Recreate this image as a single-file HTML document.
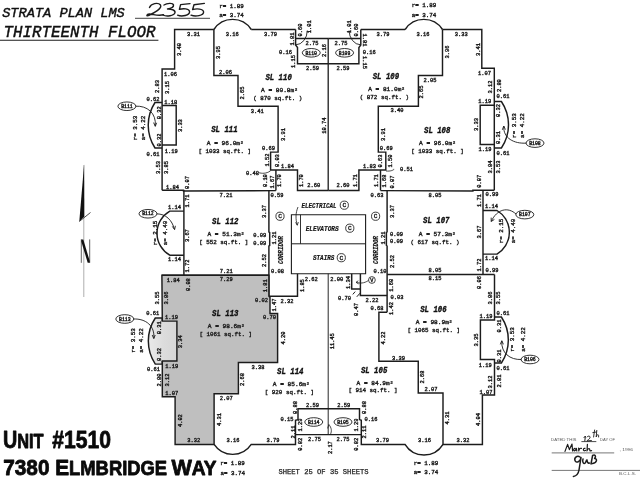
<!DOCTYPE html>
<html><head><meta charset="utf-8"><title>Strata Plan LMS 2355 - Thirteenth Floor</title>
<style>
html,body{margin:0;padding:0;background:#fff;}
body{width:640px;height:480px;overflow:hidden;}
svg{display:block;will-change:transform;filter:blur(0.38px);}
text{font-family:"Liberation Mono",monospace;fill:#2a2a2a;}
.d{font-family:"Liberation Mono",monospace;fill:#1e1e1e;stroke:#1e1e1e;stroke-width:0.38;}
.sl{font-family:"Liberation Mono",monospace;font-weight:bold;font-style:italic;fill:#111;stroke:#111;stroke-width:0.35;}
.it{font-family:"Liberation Mono",monospace;font-style:italic;font-weight:bold;fill:#141414;stroke:#141414;stroke-width:0.2;}
.ti{font-family:"Liberation Mono",monospace;font-style:italic;fill:#101010;stroke:#101010;stroke-width:0.42;}
.ad{font-family:"Liberation Sans",sans-serif;font-weight:bold;fill:#0a0a0a;stroke:#0a0a0a;stroke-width:0.8;stroke-linejoin:round;}
.sh{font-family:"Liberation Sans",sans-serif;fill:#222;stroke:#222;stroke-width:0.25;}
</style></head>
<body>
<svg width="640" height="480" viewBox="0 0 640 480">
<rect width="640" height="480" fill="#fff"/>
<g>
<path d="M295.6,29.5 L251.25,29.5" fill="none" stroke="#1c1c1c" stroke-width="1.45" />
<path d="M360.8,29.5 L405.15,29.5" fill="none" stroke="#1c1c1c" stroke-width="1.45" />
<path d="M213.9,29.5 L174.6,29.5 L174.6,69.0 L162.1,69.0 L162.1,190.3" fill="none" stroke="#1c1c1c" stroke-width="1.45" />
<path d="M442.5,29.5 L481.8,29.5 L481.8,68.2 L494.3,68.2 L494.3,190.3" fill="none" stroke="#1c1c1c" stroke-width="1.45" />
<path d="M162.1,105.5 L176.2,105.5 L176.2,145.0 L162.1,145.0" fill="none" stroke="#1c1c1c" stroke-width="1.45" />
<path d="M494.3,105.2 L480.2,105.2 L480.2,144.5 L494.3,144.5" fill="none" stroke="#1c1c1c" stroke-width="1.45" />
<path d="M213.9,29.5 L213.9,75.5 L238,75.5 L238,106.25 L278.1,106.25 L278.1,152.1 L270.6,152.1 L270.6,170 L297.5,170 L297.5,190.4 L328.2,190.4" fill="none" stroke="#1c1c1c" stroke-width="1.45" />
<path d="M442.5,29.5 L442.5,75.5 L418.4,75.5 L418.4,106.25 L378.3,106.25 L378.3,152.1 L385.8,152.1 L385.8,170 L358.9,170 L358.9,190.4 L328.2,190.4" fill="none" stroke="#1c1c1c" stroke-width="1.45" />
<path d="M275.9,170 L275.9,190.4" fill="none" stroke="#1c1c1c" stroke-width="1.45" />
<path d="M380.5,170 L380.5,190.4" fill="none" stroke="#1c1c1c" stroke-width="1.45" />
<path d="M162.1,190.3 L183.5,190.3 L183.5,191 L275.9,190.6" fill="none" stroke="#1c1c1c" stroke-width="1.45" />
<path d="M494.3,190.3 L472.9,190.3 L472.9,191 L380.5,190.6" fill="none" stroke="#1c1c1c" stroke-width="1.45" />
<path d="M295.6,29.5 L295.6,45 L297.5,47.5 L297.5,63.75 L328.2,63.75" fill="none" stroke="#1c1c1c" stroke-width="1.45" />
<path d="M360.8,29.5 L360.8,45 L358.9,47.5 L358.9,63.75 L328.2,63.75" fill="none" stroke="#1c1c1c" stroke-width="1.45" />
<path d="M295.6,38.4 L328.2,38.4" fill="none" stroke="#1c1c1c" stroke-width="1.45" />
<path d="M360.8,38.4 L328.2,38.4" fill="none" stroke="#1c1c1c" stroke-width="1.45" />
<path d="M183.9,190.3 L183.9,275.2" fill="none" stroke="#1c1c1c" stroke-width="1.45" />
<path d="M268.9,190.4 L268.9,232 L269.7,232.5 L269.7,245.5 L268.9,246 L268.9,296.2 L297.5,296.2 L297.5,273.7" fill="none" stroke="#1c1c1c" stroke-width="1.45" />
<path d="M161.9,275.2 L268.9,275.2" fill="none" stroke="#1c1c1c" stroke-width="1.45" />
<path d="M328.2,38.4 L328.2,190.4" fill="none" stroke="#1c1c1c" stroke-width="1.3" />
<path d="M328.2,273.7 L328.2,434.5" fill="none" stroke="#1c1c1c" stroke-width="0.95" />
<path d="M213.9,29.5 A22.3,22.3 0 0 1 251.25,29.5" fill="none" stroke="#1c1c1c" stroke-width="1.45" />
<path d="M442.5,29.5 A22.3,22.3 0 0 0 405.15,29.5" fill="none" stroke="#1c1c1c" stroke-width="1.45" />
<path d="M162.1,102.5 L155,102.5 A41.6,41.6 0 0 0 155,148 L162.1,148" fill="none" stroke="#1c1c1c" stroke-width="1.45" />
<path d="M494.3,101.5 L501.4,101.5 A41.6,41.6 0 0 1 501.4,148 L494.3,148" fill="none" stroke="#1c1c1c" stroke-width="1.45" />
<path d="M183.9,211.1 L169.8,211.1 A25.4,25.4 0 0 0 169.8,255.2 L183.9,255.2" fill="none" stroke="#1c1c1c" stroke-width="1.45" />
<path d="M483,210.5 L497,210.5 A25.4,25.4 0 0 1 497,254.1 L483,254.1" fill="none" stroke="#1c1c1c" stroke-width="1.45" />
<path d="M307.3,30.5 A11.7,14.5 0 0 1 295.8,44.8" fill="none" stroke="#1c1c1c" stroke-width="0.9" />
<path d="M349.1,30.5 A11.7,14.5 0 0 0 360.6,44.8" fill="none" stroke="#1c1c1c" stroke-width="0.9" />
<path d="M291.4,214.8 H365.6 V273.7 H291.4 Z" fill="none" stroke="#1c1c1c" stroke-width="1.1" />
<path d="M291.4,243.8 H365.6" fill="none" stroke="#1c1c1c" stroke-width="1.0" />
<path d="M300.5,214.8 V243.8" fill="none" stroke="#1c1c1c" stroke-width="0.9" />
<path d="M161.9,275.2 L268.9,275.2 L268.9,296.2 L270,297.4 L270,313.5 L277.6,313.5 L277.6,362.5 L238.4,362.5 L238.4,393.7 L214.1,393.7 L214.1,444.4 L175.1,444.4 L175.1,396.8 L162.3,396.8 L162.3,360.9 L176.9,360.9 L176.9,321.1 L162.3,321.1 Z" fill="#bfbfbf" stroke="none"/>
<defs><linearGradient id="bal" x1="148" y1="0" x2="177" y2="0" gradientUnits="userSpaceOnUse"><stop offset="0" stop-color="#eaeaea"/><stop offset="0.55" stop-color="#dcdcdc"/><stop offset="1" stop-color="#d6d6d6"/></linearGradient></defs>
<path d="M176.9,321.1 L162.3,321.1 L162.3,318 L155.3,318 A41.6,41.6 0 0 0 155.3,364.1 L162.3,364.1 L162.3,360.9 L176.9,360.9 Z" fill="url(#bal)" stroke="none"/>
<path d="M161.9,275.2 L268.9,275.2 L268.9,296.2 L270,297.4 L270,313.5 L277.6,313.5 L277.6,362.5 L238.4,362.5 L238.4,393.7 L214.1,393.7 L214.1,444.4 L175.1,444.4 L175.1,396.8 L162.3,396.8 L162.3,360.9 L176.9,360.9 L176.9,321.1 L162.3,321.1 Z" fill="none" stroke="#1c1c1c" stroke-width="1.45" />
<path d="M162.3,318 L155.3,318 A41.6,41.6 0 0 0 155.3,364.1 L162.3,364.1" fill="none" stroke="#1c1c1c" stroke-width="1.45" />
<path d="M162.3,318 V321.1 M162.3,360.9 V364.1" fill="none" stroke="#1c1c1c" stroke-width="1.45" />
<path d="M494.5,274.5 L494.5,320 L480.4,320 L480.4,359.5 L494.5,359.5 L494.5,395 L482.4,395 L482.4,444.4 L443,444.4 L443,393 L418.25,393 L418.25,361.25 L378.9,361.25 L378.9,312.3 L387.1,312.3" fill="none" stroke="#1c1c1c" stroke-width="1.45" />
<path d="M494.5,317 L501.4,317 A41.6,41.6 0 0 1 501.4,363 L494.5,363" fill="none" stroke="#1c1c1c" stroke-width="1.45" />
<path d="M387.1,190.4 V232 L386.4,232.5 V245.5 L387.1,246 V312.3" fill="none" stroke="#1c1c1c" stroke-width="1.45" />
<path d="M387.1,274.5 H494.5" fill="none" stroke="#1c1c1c" stroke-width="1.45" />
<path d="M483,190.3 V274.5" fill="none" stroke="#1c1c1c" stroke-width="1.45" />
<path d="M360.4,273.7 V295.4 H387.1" fill="none" stroke="#1c1c1c" stroke-width="1.45" />
<path d="M351.7,273.7 V289 H360.4" fill="none" stroke="#1c1c1c" stroke-width="1.45" />
<path d="M214.1,444.4 A22.3,22.3 0 0 0 251.25,444.4 H295.5 V420.3 L298,419.6 V408.75 H359.5 V419.6 L361.3,420.3 V444.4 H405 A22.3,22.3 0 0 0 443,444.4" fill="none" stroke="#1c1c1c" stroke-width="1.45" />
<path d="M295.5,434.6 H361.3" fill="none" stroke="#1c1c1c" stroke-width="1.45" />
<path d="M83.8,165 V297" fill="none" stroke="#777" stroke-width="0.6" />
<path d="M84.1,164.5 L84.3,216.5 L79.3,221.5 Z" fill="#111"/>
<path d="M79.3,221.5 L90.5,212.5" fill="none" stroke="#1c1c1c" stroke-width="0.8" />
<path d="M81.3,239.4 V262.8 M89.7,239.4 V262.8" fill="none" stroke="#1c1c1c" stroke-width="0.7" />
<path d="M81.3,239.4 L83.3,239.4 L89.7,261 L89.7,262.8 L87.7,262.8 L81.3,241.5 Z" fill="#111"/>
<ellipse cx="126.9" cy="106.25" rx="9" ry="4.3" fill="none" stroke="#1c1c1c" stroke-width="0.9"/>
<text class="d" x="126.9" y="107.95" font-size="4.8" text-anchor="middle" >B111</text>
<ellipse cx="148" cy="213.75" rx="9" ry="4.3" fill="none" stroke="#1c1c1c" stroke-width="0.9"/>
<text class="d" x="148" y="215.45" font-size="4.8" text-anchor="middle" >B112</text>
<ellipse cx="124.8" cy="319" rx="9" ry="4.3" fill="none" stroke="#1c1c1c" stroke-width="0.9"/>
<text class="d" x="124.8" y="320.7" font-size="4.8" text-anchor="middle" >B113</text>
<ellipse cx="311.25" cy="52.8" rx="9" ry="4.3" fill="none" stroke="#1c1c1c" stroke-width="0.9"/>
<text class="d" x="311.25" y="54.5" font-size="4.8" text-anchor="middle" >B110</text>
<ellipse cx="344.6" cy="52.8" rx="9" ry="4.3" fill="none" stroke="#1c1c1c" stroke-width="0.9"/>
<text class="d" x="344.6" y="54.5" font-size="4.8" text-anchor="middle" >B109</text>
<ellipse cx="535" cy="143.1" rx="9" ry="4.3" fill="none" stroke="#1c1c1c" stroke-width="0.9"/>
<text class="d" x="535" y="144.79999999999998" font-size="4.8" text-anchor="middle" >B108</text>
<ellipse cx="524.8" cy="214.6" rx="9" ry="4.3" fill="none" stroke="#1c1c1c" stroke-width="0.9"/>
<text class="d" x="524.8" y="216.29999999999998" font-size="4.8" text-anchor="middle" >B107</text>
<ellipse cx="530" cy="359.5" rx="9" ry="4.3" fill="none" stroke="#1c1c1c" stroke-width="0.9"/>
<text class="d" x="530" y="361.2" font-size="4.8" text-anchor="middle" >B106</text>
<ellipse cx="313.75" cy="422" rx="9" ry="4.3" fill="none" stroke="#1c1c1c" stroke-width="0.9"/>
<text class="d" x="313.75" y="423.7" font-size="4.8" text-anchor="middle" >B114</text>
<ellipse cx="343" cy="422" rx="9" ry="4.3" fill="none" stroke="#1c1c1c" stroke-width="0.9"/>
<text class="d" x="343" y="423.7" font-size="4.8" text-anchor="middle" >B105</text>
<path d="M135.5,106.2 C147,105.5 156.5,113 155.3,126" fill="none" stroke="#1c1c1c" stroke-width="0.9" />
<path d="M153.6,122.6 L155.3,126.4 L156.6,122.8" fill="none" stroke="#1c1c1c" stroke-width="0.9" />
<path d="M156.6,213.8 C166,214 172,220 174.5,229.4" fill="none" stroke="#1c1c1c" stroke-width="0.9" />
<path d="M172.3,226.4 L174.6,229.6 L175.4,225.8" fill="none" stroke="#1c1c1c" stroke-width="0.9" />
<path d="M133.4,319 C146,318.5 155,326 153.8,338.3" fill="none" stroke="#1c1c1c" stroke-width="0.9" />
<path d="M152.2,335 L153.8,338.6 L155.2,335" fill="none" stroke="#1c1c1c" stroke-width="0.9" />
<path d="M526.4,143.1 C514,144 503,138 503.8,126.3" fill="none" stroke="#1c1c1c" stroke-width="0.9" />
<path d="M502.3,129.8 L503.8,126 L505.4,129.6" fill="none" stroke="#1c1c1c" stroke-width="0.9" />
<path d="M516.2,214.2 C508,206.5 497,209 491.3,221.3" fill="none" stroke="#1c1c1c" stroke-width="0.9" />
<path d="M491.2,217.6 L491.2,221.5 L494.4,219.4" fill="none" stroke="#1c1c1c" stroke-width="0.9" />
<path d="M521.4,359.5 C510,360 501,353 501.8,341" fill="none" stroke="#1c1c1c" stroke-width="0.9" />
<path d="M500.3,344.4 L501.8,340.7 L503.4,344.3" fill="none" stroke="#1c1c1c" stroke-width="0.9" />
<path d="M298,207 C295.5,213 295.5,219 297.2,225" fill="none" stroke="#1c1c1c" stroke-width="0.8" />
<path d="M295.6,222.3 L297.3,225.3 L298.3,222" fill="none" stroke="#1c1c1c" stroke-width="0.8" />
<path d="M258.5,172.6 C262,173.6 266,173.8 270.4,171" fill="none" stroke="#1c1c1c" stroke-width="0.8" />
<path d="M393.9,168.9 C394.4,170 390.4,171.5 386.0,171" fill="none" stroke="#1c1c1c" stroke-width="0.8" />
<path d="M368.4,280.5 C364,283.5 360,283.5 356.2,282.3" fill="none" stroke="#1c1c1c" stroke-width="0.8" />
<path d="M358.3,280.8 L356,282.3 L358.6,283.9" fill="none" stroke="#1c1c1c" stroke-width="0.8" />
<path d="M352.8,294.4 L355.2,291.6 M356.8,296.8 L360,293.2" fill="none" stroke="#1c1c1c" stroke-width="1.0" />
<path d="M328.9,424.5 L327.6,428.4 M328.9,424.5 C331.6,428 332,431 330.4,434.5" fill="none" stroke="#1c1c1c" stroke-width="0.8" />
<circle cx="280" cy="216.25" r="4.1" fill="none" stroke="#1c1c1c" stroke-width="0.85"/>
<text class="d" x="280" y="218.25" font-size="6.2" text-anchor="middle" >C</text>
<circle cx="375.6" cy="216.25" r="4.1" fill="none" stroke="#1c1c1c" stroke-width="0.85"/>
<text class="d" x="375.6" y="218.25" font-size="6.2" text-anchor="middle" >C</text>
<circle cx="344.3" cy="205.2" r="4.1" fill="none" stroke="#1c1c1c" stroke-width="0.85"/>
<text class="d" x="344.3" y="207.2" font-size="6.2" text-anchor="middle" >C</text>
<circle cx="349.8" cy="228.2" r="4.1" fill="none" stroke="#1c1c1c" stroke-width="0.85"/>
<text class="d" x="349.8" y="230.2" font-size="6.2" text-anchor="middle" >C</text>
<circle cx="341.3" cy="257.7" r="4.1" fill="none" stroke="#1c1c1c" stroke-width="0.85"/>
<text class="d" x="341.3" y="259.7" font-size="6.2" text-anchor="middle" >C</text>
<circle cx="371.9" cy="280" r="3.4" fill="none" stroke="#1c1c1c" stroke-width="0.8"/>
<text class="d" x="371.9" y="281.8" font-size="5.2" text-anchor="middle" >V</text>
<text class="sl" x="265.4" y="79.9" font-size="8.8" textLength="26.4" lengthAdjust="spacingAndGlyphs">SL 110</text>
<text class="d" x="279.5" y="91.9" font-size="6.15" text-anchor="middle">A = 80.8m²</text>
<text class="d" x="277.8" y="100.25" font-size="5.85" text-anchor="middle">( 870 sq.ft. )</text>
<text class="sl" x="372.7" y="78.7" font-size="8.8" textLength="26.4" lengthAdjust="spacingAndGlyphs">SL 109</text>
<text class="d" x="386.6" y="91.2" font-size="6.15" text-anchor="middle">A = 81.0m²</text>
<text class="d" x="384.4" y="99.15" font-size="5.85" text-anchor="middle">( 872 sq.ft. )</text>
<text class="sl" x="211.2" y="132.2" font-size="8.8" textLength="26.4" lengthAdjust="spacingAndGlyphs">SL 111</text>
<text class="d" x="225.3" y="144.8" font-size="6.15" text-anchor="middle">A = 96.0m²</text>
<text class="d" x="224.7" y="152.65" font-size="5.85" text-anchor="middle">[ 1033 sq.ft. ]</text>
<text class="sl" x="424.0" y="132.9" font-size="8.8" textLength="26.4" lengthAdjust="spacingAndGlyphs">SL 108</text>
<text class="d" x="437.5" y="145.4" font-size="6.15" text-anchor="middle">A = 96.0m²</text>
<text class="d" x="437.5" y="153.15" font-size="5.85" text-anchor="middle">[ 1033 sq.ft. ]</text>
<text class="sl" x="212.1" y="223.7" font-size="8.8" textLength="26.4" lengthAdjust="spacingAndGlyphs">SL 112</text>
<text class="d" x="225.9" y="236.2" font-size="6.15" text-anchor="middle">A = 51.3m²</text>
<text class="d" x="223.8" y="244.15" font-size="5.85" text-anchor="middle">[ 552 sq.ft. ]</text>
<text class="sl" x="423.1" y="223.0" font-size="8.8" textLength="26.4" lengthAdjust="spacingAndGlyphs">SL 107</text>
<text class="d" x="437.2" y="235.9" font-size="6.15" text-anchor="middle">A = 57.3m²</text>
<text class="d" x="435.0" y="243.55" font-size="5.85" text-anchor="middle">( 617 sq.ft. )</text>
<text class="sl" x="212.1" y="315.8" font-size="8.8" textLength="26.4" lengthAdjust="spacingAndGlyphs">SL 113</text>
<text class="d" x="226.2" y="327.8" font-size="6.15" text-anchor="middle">A = 98.6m²</text>
<text class="d" x="225.8" y="336.05" font-size="5.85" text-anchor="middle">[ 1061 sq.ft. ]</text>
<text class="sl" x="420.2" y="311.7" font-size="8.8" textLength="26.4" lengthAdjust="spacingAndGlyphs">SL 106</text>
<text class="d" x="434.1" y="323.9" font-size="6.15" text-anchor="middle">A = 98.9m²</text>
<text class="d" x="433.8" y="331.55" font-size="5.85" text-anchor="middle">[ 1065 sq.ft. ]</text>
<text class="sl" x="277.1" y="374.3" font-size="8.8" textLength="26.4" lengthAdjust="spacingAndGlyphs">SL 114</text>
<text class="d" x="291.3" y="386.0" font-size="6.15" text-anchor="middle">A = 85.6m²</text>
<text class="d" x="289.4" y="393.85" font-size="5.85" text-anchor="middle">[ 920 sq.ft. ]</text>
<text class="sl" x="360.9" y="373.0" font-size="8.8" textLength="26.4" lengthAdjust="spacingAndGlyphs">SL 105</text>
<text class="d" x="375.0" y="384.8" font-size="6.15" text-anchor="middle">A = 84.9m²</text>
<text class="d" x="373.1" y="392.35" font-size="5.85" text-anchor="middle">[ 914 sq.ft. ]</text>
<text class="d" x="231.5" y="8.05" font-size="5.85" text-anchor="middle">r= 1.89</text>
<text class="d" x="231.5" y="17.4" font-size="5.85" text-anchor="middle">a= 3.74</text>
<text class="d" x="424" y="7.1" font-size="5.85" text-anchor="middle">r= 1.89</text>
<text class="d" x="424" y="16.6" font-size="5.85" text-anchor="middle">a= 3.74</text>
<text class="d" x="193.5" y="35.7" font-size="5.4" text-anchor="middle">3.31</text>
<text class="d" x="232.2" y="35.7" font-size="5.4" text-anchor="middle">3.16</text>
<text class="d" x="270.6" y="35.7" font-size="5.4" text-anchor="middle">3.79</text>
<text class="d" x="383" y="35.7" font-size="5.4" text-anchor="middle">3.79</text>
<text class="d" x="423" y="35.7" font-size="5.4" text-anchor="middle">3.16</text>
<text class="d" x="461.25" y="35.7" font-size="5.4" text-anchor="middle">3.33</text>
<text class="d" x="179.4" y="51.3" font-size="5.4" text-anchor="middle" transform="rotate(-90 179.4 49.5)">3.40</text>
<text class="d" x="218.2" y="54.3" font-size="5.4" text-anchor="middle" transform="rotate(-90 218.2 52.5)">3.95</text>
<text class="d" x="447.5" y="53.8" font-size="5.4" text-anchor="middle" transform="rotate(-90 447.5 52)">3.96</text>
<text class="d" x="478" y="51.2" font-size="5.4" text-anchor="middle" transform="rotate(-90 478 49.4)">3.41</text>
<text class="d" x="170.6" y="75.9" font-size="5.4" text-anchor="middle">1.06</text>
<text class="d" x="225.6" y="73.8" font-size="5.4" text-anchor="middle">2.06</text>
<text class="d" x="430" y="81.55" font-size="5.4" text-anchor="middle">2.05</text>
<text class="d" x="484.6" y="75.2" font-size="5.4" text-anchor="middle">1.07</text>
<text class="d" x="167" y="89.3" font-size="5.4" text-anchor="middle" transform="rotate(-90 167 87.5)">3.15</text>
<text class="d" x="157" y="88.3" font-size="5.4" text-anchor="middle" transform="rotate(-90 157 86.5)">2.83</text>
<text class="d" x="242.7" y="94.8" font-size="5.4" text-anchor="middle" transform="rotate(-90 242.7 93)">2.65</text>
<text class="d" x="421.25" y="93.8" font-size="5.4" text-anchor="middle" transform="rotate(-90 421.25 92)">2.65</text>
<text class="d" x="490.5" y="88.8" font-size="5.4" text-anchor="middle" transform="rotate(-90 490.5 87)">3.12</text>
<text class="d" x="498.75" y="87.4" font-size="5.4" text-anchor="middle" transform="rotate(-90 498.75 85.6)">2.80</text>
<text class="d" x="170.8" y="103.6" font-size="5.4" text-anchor="middle">1.18</text>
<text class="d" x="257.2" y="112.8" font-size="5.4" text-anchor="middle">3.41</text>
<text class="d" x="396.9" y="111.8" font-size="5.4" text-anchor="middle">3.40</text>
<text class="d" x="484.8" y="103.1" font-size="5.4" text-anchor="middle">1.19</text>
<text class="d" x="300.3" y="31.8" font-size="5.4" text-anchor="middle" transform="rotate(-90 300.3 30)">0.60</text>
<text class="d" x="309" y="28.5" font-size="5.4" text-anchor="middle" transform="rotate(-90 309 26.7)">1.01</text>
<text class="d" x="292.5" y="40.8" font-size="5.4" text-anchor="middle" transform="rotate(-90 292.5 39)">1.81</text>
<text class="d" x="285.5" y="54.3" font-size="5.4" text-anchor="middle">0.16</text>
<text class="d" x="293.3" y="63.3" font-size="5.4" text-anchor="middle" transform="rotate(-90 293.3 61.5)">1.15</text>
<text class="d" x="312" y="45.0" font-size="5.4" text-anchor="middle">2.75</text>
<text class="d" x="312.4" y="70.0" font-size="5.4" text-anchor="middle">2.59</text>
<text class="d" x="324.5" y="52.3" font-size="5.4" text-anchor="middle" transform="rotate(-90 324.5 50.5)">2.16</text>
<text class="d" x="341" y="45.0" font-size="5.4" text-anchor="middle">2.75</text>
<text class="d" x="343" y="70.0" font-size="5.4" text-anchor="middle">2.59</text>
<text class="d" x="348.75" y="28.5" font-size="5.4" text-anchor="middle" transform="rotate(-90 348.75 26.7)">1.01</text>
<text class="d" x="356.5" y="31.8" font-size="5.4" text-anchor="middle" transform="rotate(-90 356.5 30)">0.60</text>
<text class="d" x="365" y="41.8" font-size="5.4" text-anchor="middle" transform="rotate(90 365 40)">1.81</text>
<text class="d" x="369.2" y="54.1" font-size="5.4" text-anchor="middle">0.16</text>
<text class="d" x="364.5" y="64.3" font-size="5.4" text-anchor="middle" transform="rotate(90 364.5 62.5)">1.15</text>
<text class="d" x="153" y="100.6" font-size="5.4" text-anchor="middle">0.62</text>
<text class="d" x="158.75" y="114.5" font-size="5.4" text-anchor="middle" transform="rotate(-90 158.75 112.7)">0.32</text>
<text class="d" x="158.75" y="141.8" font-size="5.4" text-anchor="middle" transform="rotate(-90 158.75 140)">0.32</text>
<text class="d" x="180.5" y="127.4" font-size="5.4" text-anchor="middle" transform="rotate(-90 180.5 125.6)">3.33</text>
<text class="d" x="135" y="129.8" font-size="5.85" text-anchor="middle" transform="rotate(-90 135 128)">r= 3.53</text>
<text class="d" x="143.2" y="129.8" font-size="5.85" text-anchor="middle" transform="rotate(-90 143.2 128)">a= 4.22</text>
<text class="d" x="153" y="155.55" font-size="5.4" text-anchor="middle">0.61</text>
<text class="d" x="171.25" y="152.7" font-size="5.4" text-anchor="middle">1.19</text>
<text class="d" x="158" y="169.3" font-size="5.4" text-anchor="middle" transform="rotate(-90 158 167.5)">3.53</text>
<text class="d" x="166.25" y="169.3" font-size="5.4" text-anchor="middle" transform="rotate(-90 166.25 167.5)">3.85</text>
<text class="d" x="172.5" y="188.8" font-size="5.4" text-anchor="middle">1.84</text>
<text class="d" x="187.7" y="184.3" font-size="5.4" text-anchor="middle" transform="rotate(-90 187.7 182.5)">0.07</text>
<text class="d" x="503" y="98.1" font-size="5.4" text-anchor="middle">0.61</text>
<text class="d" x="498.6" y="112.3" font-size="5.4" text-anchor="middle" transform="rotate(-90 498.6 110.5)">0.32</text>
<text class="d" x="498.6" y="139.3" font-size="5.4" text-anchor="middle" transform="rotate(-90 498.6 137.5)">0.31</text>
<text class="d" x="476.25" y="126.2" font-size="5.4" text-anchor="middle" transform="rotate(-90 476.25 124.4)">3.33</text>
<text class="d" x="513.75" y="127.4" font-size="5.85" text-anchor="middle" transform="rotate(-90 513.75 125.6)">r= 3.53</text>
<text class="d" x="522.5" y="127.4" font-size="5.85" text-anchor="middle" transform="rotate(-90 522.5 125.6)">a= 4.22</text>
<text class="d" x="485" y="151.4" font-size="5.4" text-anchor="middle">1.19</text>
<text class="d" x="503" y="154.55" font-size="5.4" text-anchor="middle">0.61</text>
<text class="d" x="490" y="168.8" font-size="5.4" text-anchor="middle" transform="rotate(-90 490 167)">3.84</text>
<text class="d" x="498" y="168.8" font-size="5.4" text-anchor="middle" transform="rotate(-90 498 167)">3.53</text>
<text class="d" x="479" y="183.0" font-size="5.4" text-anchor="middle" transform="rotate(-90 479 181.2)">0.07</text>
<text class="d" x="283" y="136.2" font-size="5.4" text-anchor="middle" transform="rotate(-90 283 134.4)">3.91</text>
<text class="d" x="324.25" y="127.4" font-size="5.4" text-anchor="middle" transform="rotate(-90 324.25 125.6)">10.74</text>
<text class="d" x="383" y="136.2" font-size="5.4" text-anchor="middle" transform="rotate(-90 383 134.4)">3.91</text>
<text class="d" x="268.5" y="150.3" font-size="5.4" text-anchor="middle">0.69</text>
<text class="d" x="386.25" y="150.3" font-size="5.4" text-anchor="middle">0.69</text>
<text class="d" x="267" y="161.8" font-size="5.4" text-anchor="middle" transform="rotate(-90 267 160)">1.52</text>
<text class="d" x="277" y="162.4" font-size="5.4" text-anchor="middle" transform="rotate(-90 277 160.6)">0.03</text>
<text class="d" x="287.5" y="167.7" font-size="5.4" text-anchor="middle">1.84</text>
<text class="d" x="252.5" y="175.2" font-size="5.4" text-anchor="middle">0.48</text>
<text class="d" x="265" y="182.4" font-size="5.4" text-anchor="middle" transform="rotate(-90 265 180.6)">0.10</text>
<text class="d" x="272" y="183.8" font-size="5.4" text-anchor="middle" transform="rotate(-90 272 182)">1.67</text>
<text class="d" x="279.7" y="182.4" font-size="5.4" text-anchor="middle" transform="rotate(-90 279.7 180.6)">1.70</text>
<text class="d" x="301.25" y="182.4" font-size="5.4" text-anchor="middle" transform="rotate(-90 301.25 180.6)">1.70</text>
<text class="d" x="313.75" y="187.3" font-size="5.4" text-anchor="middle">2.60</text>
<text class="d" x="342.9" y="187.3" font-size="5.4" text-anchor="middle">2.60</text>
<text class="d" x="355.5" y="182.4" font-size="5.4" text-anchor="middle" transform="rotate(-90 355.5 180.6)">1.71</text>
<text class="d" x="369.4" y="167.7" font-size="5.4" text-anchor="middle">1.83</text>
<text class="d" x="380" y="162.8" font-size="5.4" text-anchor="middle" transform="rotate(-90 380 161)">0.63</text>
<text class="d" x="390" y="162.8" font-size="5.4" text-anchor="middle" transform="rotate(-90 390 161)">1.50</text>
<text class="d" x="376.25" y="182.4" font-size="5.4" text-anchor="middle" transform="rotate(-90 376.25 180.6)">1.71</text>
<text class="d" x="384" y="182.8" font-size="5.4" text-anchor="middle" transform="rotate(-90 384 181)">1.68</text>
<text class="d" x="392.5" y="183.8" font-size="5.4" text-anchor="middle" transform="rotate(-90 392.5 182)">0.07</text>
<text class="d" x="277" y="196.6" font-size="5.4" text-anchor="middle">0.59</text>
<text class="d" x="377" y="196.6" font-size="5.4" text-anchor="middle">0.63</text>
<text class="d" x="406.5" y="170.8" font-size="5.4" text-anchor="middle">0.51</text>
<text class="d" x="226" y="197.4" font-size="5.4" text-anchor="middle">7.21</text>
<text class="d" x="187.7" y="202.8" font-size="5.4" text-anchor="middle" transform="rotate(-90 187.7 201)">1.71</text>
<text class="d" x="174.6" y="209.4" font-size="5.4" text-anchor="middle">1.14</text>
<text class="d" x="187.7" y="237.4" font-size="5.4" text-anchor="middle" transform="rotate(-90 187.7 235.6)">3.67</text>
<text class="d" x="174.6" y="260.7" font-size="5.4" text-anchor="middle">1.14</text>
<text class="d" x="187.7" y="267.8" font-size="5.4" text-anchor="middle" transform="rotate(-90 187.7 266)">1.72</text>
<text class="d" x="226.25" y="272.6" font-size="5.4" text-anchor="middle">7.21</text>
<text class="d" x="155" y="234.8" font-size="5.85" text-anchor="middle" transform="rotate(-90 155 233)">r= 2.15</text>
<text class="d" x="165" y="234.8" font-size="5.85" text-anchor="middle" transform="rotate(-90 165 233)">a= 4.40</text>
<text class="d" x="259.8" y="236.5" font-size="5.4" text-anchor="middle">0.09</text>
<text class="d" x="259.8" y="244.7" font-size="5.4" text-anchor="middle">0.09</text>
<text class="d" x="264.4" y="213.3" font-size="5.4" text-anchor="middle" transform="rotate(-90 264.4 211.5)">3.37</text>
<text class="d" x="264.4" y="262.4" font-size="5.4" text-anchor="middle" transform="rotate(-90 264.4 260.6)">2.52</text>
<text class="d" x="274.3" y="239.8" font-size="5.4" text-anchor="middle" transform="rotate(-90 274.3 238)">1.21</text>
<text class="it" x="301.4" y="208.1" font-size="7.6" textLength="35.2" lengthAdjust="spacingAndGlyphs">ELECTRICAL</text>
<text class="it" x="305.7" y="231.0" font-size="7.8" textLength="33.0" lengthAdjust="spacingAndGlyphs">ELEVATORS</text>
<text class="it" x="313.0" y="260.4" font-size="7.6" textLength="21.3" lengthAdjust="spacingAndGlyphs">STAIRS</text>
<text class="it" x="266.5" y="252.2" font-size="6.6" textLength="28" lengthAdjust="spacingAndGlyphs" transform="rotate(-90 280.5 250)">CORRIDOR</text>
<text class="it" x="362.2" y="252.2" font-size="6.6" textLength="28" lengthAdjust="spacingAndGlyphs" transform="rotate(-90 376.2 250)">CORRIDOR</text>
<text class="d" x="435" y="196.8" font-size="5.4" text-anchor="middle">8.05</text>
<text class="d" x="491.9" y="195.6" font-size="5.4" text-anchor="middle">0.99</text>
<text class="d" x="479.2" y="202.4" font-size="5.4" text-anchor="middle" transform="rotate(-90 479.2 200.6)">1.71</text>
<text class="d" x="491.5" y="208.4" font-size="5.4" text-anchor="middle">1.14</text>
<text class="d" x="479.2" y="233.8" font-size="5.4" text-anchor="middle" transform="rotate(-90 479.2 232)">3.67</text>
<text class="d" x="491.5" y="260.2" font-size="5.4" text-anchor="middle">1.14</text>
<text class="d" x="479.2" y="266.8" font-size="5.4" text-anchor="middle" transform="rotate(-90 479.2 265)">1.72</text>
<text class="d" x="491.9" y="272.2" font-size="5.4" text-anchor="middle">0.99</text>
<text class="d" x="435" y="271.8" font-size="5.4" text-anchor="middle">8.05</text>
<text class="d" x="435" y="280.4" font-size="5.4" text-anchor="middle">8.15</text>
<text class="d" x="501.25" y="232.8" font-size="5.85" text-anchor="middle" transform="rotate(-90 501.25 231)">r= 2.15</text>
<text class="d" x="513" y="232.8" font-size="5.85" text-anchor="middle" transform="rotate(-90 513 231)">a= 4.40</text>
<text class="d" x="392" y="213.3" font-size="5.4" text-anchor="middle" transform="rotate(-90 392 211.5)">3.37</text>
<text class="d" x="396.6" y="235.9" font-size="5.4" text-anchor="middle">0.09</text>
<text class="d" x="396.6" y="243.3" font-size="5.4" text-anchor="middle">0.09</text>
<text class="d" x="383" y="239.8" font-size="5.4" text-anchor="middle" transform="rotate(-90 383 238)">1.21</text>
<text class="d" x="392" y="263.3" font-size="5.4" text-anchor="middle" transform="rotate(-90 392 261.5)">2.52</text>
<text class="d" x="277.5" y="273.1" font-size="5.4" text-anchor="middle">0.08</text>
<text class="d" x="380" y="273.1" font-size="5.4" text-anchor="middle">0.10</text>
<text class="d" x="173.2" y="282.1" font-size="5.4" text-anchor="middle">1.84</text>
<text class="d" x="188" y="286.4" font-size="5.4" text-anchor="middle" transform="rotate(-90 188 284.6)">0.08</text>
<text class="d" x="226.25" y="281.0" font-size="5.4" text-anchor="middle">7.29</text>
<text class="d" x="265" y="287.6" font-size="5.4" text-anchor="middle" transform="rotate(-90 265 285.8)">1.81</text>
<text class="d" x="261.6" y="302.1" font-size="5.4" text-anchor="middle">0.02</text>
<text class="d" x="157.5" y="299.8" font-size="5.4" text-anchor="middle" transform="rotate(-90 157.5 298)">3.55</text>
<text class="d" x="166.25" y="299.8" font-size="5.4" text-anchor="middle" transform="rotate(-90 166.25 298)">3.86</text>
<text class="d" x="152.8" y="315.4" font-size="5.4" text-anchor="middle">0.61</text>
<text class="d" x="171.5" y="319.4" font-size="5.4" text-anchor="middle">1.19</text>
<text class="d" x="158.75" y="329.5" font-size="5.4" text-anchor="middle" transform="rotate(-90 158.75 327.7)">0.31</text>
<text class="d" x="158.75" y="356.3" font-size="5.4" text-anchor="middle" transform="rotate(-90 158.75 354.5)">0.32</text>
<text class="d" x="180.2" y="343.5" font-size="5.4" text-anchor="middle" transform="rotate(-90 180.2 341.7)">3.34</text>
<text class="d" x="133" y="342.3" font-size="5.85" text-anchor="middle" transform="rotate(-90 133 340.5)">r= 3.53</text>
<text class="d" x="141.25" y="342.3" font-size="5.85" text-anchor="middle" transform="rotate(-90 141.25 340.5)">a= 4.22</text>
<text class="d" x="301.75" y="287.4" font-size="5.4" text-anchor="middle" transform="rotate(-90 301.75 285.6)">1.85</text>
<text class="d" x="311.25" y="280.8" font-size="5.4" text-anchor="middle">2.62</text>
<text class="d" x="336.75" y="280.8" font-size="5.4" text-anchor="middle">2.00</text>
<text class="d" x="348" y="284.3" font-size="5.4" text-anchor="middle" transform="rotate(-90 348 282.5)">1.34</text>
<text class="d" x="391.4" y="287.0" font-size="5.4" text-anchor="middle" transform="rotate(-90 391.4 285.2)">1.60</text>
<text class="d" x="344.4" y="300.4" font-size="5.4" text-anchor="middle">0.70</text>
<text class="d" x="287" y="303.0" font-size="5.4" text-anchor="middle">2.32</text>
<text class="d" x="274.5" y="306.8" font-size="5.4" text-anchor="middle" transform="rotate(-90 274.5 305)">1.47</text>
<text class="d" x="269.4" y="319.2" font-size="5.4" text-anchor="middle">0.70</text>
<text class="d" x="283" y="339.8" font-size="5.4" text-anchor="middle" transform="rotate(-90 283 338)">4.20</text>
<text class="d" x="371.9" y="301.6" font-size="5.4" text-anchor="middle">2.22</text>
<text class="d" x="376.9" y="310.4" font-size="5.4" text-anchor="middle">0.68</text>
<text class="d" x="355.75" y="311.2" font-size="5.4" text-anchor="middle" transform="rotate(-90 355.75 309.4)">0.47</text>
<text class="d" x="332" y="343.05" font-size="5.4" text-anchor="middle" transform="rotate(-90 332 341.25)">11.45</text>
<text class="d" x="383" y="339.8" font-size="5.4" text-anchor="middle" transform="rotate(-90 383 338)">4.22</text>
<text class="d" x="397" y="299.3" font-size="5.4" text-anchor="middle">0.03</text>
<text class="d" x="391.4" y="310.2" font-size="5.4" text-anchor="middle" transform="rotate(-90 391.4 308.4)">1.42</text>
<text class="d" x="479.3" y="284.3" font-size="5.4" text-anchor="middle" transform="rotate(-90 479.3 282.5)">0.06</text>
<text class="d" x="490" y="299.8" font-size="5.4" text-anchor="middle" transform="rotate(-90 490 298)">3.86</text>
<text class="d" x="498" y="299.8" font-size="5.4" text-anchor="middle" transform="rotate(-90 498 298)">3.55</text>
<text class="d" x="486" y="317.8" font-size="5.4" text-anchor="middle">1.19</text>
<text class="d" x="503" y="315.1" font-size="5.4" text-anchor="middle">0.61</text>
<text class="d" x="499.25" y="327.8" font-size="5.4" text-anchor="middle" transform="rotate(-90 499.25 326)">0.31</text>
<text class="d" x="476.25" y="341.8" font-size="5.4" text-anchor="middle" transform="rotate(-90 476.25 340)">3.35</text>
<text class="d" x="499.25" y="357.8" font-size="5.4" text-anchor="middle" transform="rotate(-90 499.25 356)">0.31</text>
<text class="d" x="512.5" y="341.2" font-size="5.85" text-anchor="middle" transform="rotate(-90 512.5 339.4)">r= 3.53</text>
<text class="d" x="522.8" y="341.2" font-size="5.85" text-anchor="middle" transform="rotate(-90 522.8 339.4)">a= 4.22</text>
<text class="d" x="485.2" y="366.6" font-size="5.4" text-anchor="middle">1.19</text>
<text class="d" x="503" y="369.55" font-size="5.4" text-anchor="middle">0.61</text>
<text class="d" x="258" y="368.6" font-size="5.4" text-anchor="middle">3.38</text>
<text class="d" x="398.4" y="360.3" font-size="5.4" text-anchor="middle">3.39</text>
<text class="d" x="153.5" y="370.8" font-size="5.4" text-anchor="middle">0.61</text>
<text class="d" x="171.75" y="367.8" font-size="5.4" text-anchor="middle">1.19</text>
<text class="d" x="167" y="381.8" font-size="5.4" text-anchor="middle" transform="rotate(-90 167 380)">3.12</text>
<text class="d" x="158.75" y="381.8" font-size="5.4" text-anchor="middle" transform="rotate(-90 158.75 380)">2.80</text>
<text class="d" x="171.75" y="394.6" font-size="5.4" text-anchor="middle">1.07</text>
<text class="d" x="180" y="422.4" font-size="5.4" text-anchor="middle" transform="rotate(-90 180 420.6)">4.02</text>
<text class="d" x="218.75" y="421.2" font-size="5.4" text-anchor="middle" transform="rotate(-90 218.75 419.4)">4.31</text>
<text class="d" x="226.25" y="400.3" font-size="5.4" text-anchor="middle">2.07</text>
<text class="d" x="242.7" y="381.2" font-size="5.4" text-anchor="middle" transform="rotate(-90 242.7 379.4)">2.68</text>
<text class="d" x="193.75" y="442.1" font-size="5.4" text-anchor="middle">3.32</text>
<text class="d" x="233" y="442.1" font-size="5.4" text-anchor="middle">3.16</text>
<text class="d" x="273" y="442.1" font-size="5.4" text-anchor="middle">3.79</text>
<text class="d" x="422.6" y="378.8" font-size="5.4" text-anchor="middle" transform="rotate(-90 422.6 377)">2.68</text>
<text class="d" x="431" y="391.0" font-size="5.4" text-anchor="middle">2.07</text>
<text class="d" x="447.5" y="419.8" font-size="5.4" text-anchor="middle" transform="rotate(-90 447.5 418)">4.31</text>
<text class="d" x="478.25" y="421.2" font-size="5.4" text-anchor="middle" transform="rotate(-90 478.25 419.4)">4.04</text>
<text class="d" x="463" y="441.6" font-size="5.4" text-anchor="middle">3.32</text>
<text class="d" x="424.4" y="441.6" font-size="5.4" text-anchor="middle">3.16</text>
<text class="d" x="382.6" y="442.1" font-size="5.4" text-anchor="middle">3.79</text>
<text class="d" x="490" y="383.8" font-size="5.4" text-anchor="middle" transform="rotate(-90 490 382)">3.12</text>
<text class="d" x="498.75" y="382.8" font-size="5.4" text-anchor="middle" transform="rotate(-90 498.75 381)">2.81</text>
<text class="d" x="486" y="393.8" font-size="5.4" text-anchor="middle">1.07</text>
<text class="d" x="312.5" y="407.0" font-size="5.4" text-anchor="middle">2.59</text>
<text class="d" x="343.75" y="407.0" font-size="5.4" text-anchor="middle">2.59</text>
<text class="d" x="294.8" y="409.3" font-size="5.4" text-anchor="middle" transform="rotate(-90 294.8 407.5)">0.88</text>
<text class="d" x="364.25" y="409.3" font-size="5.4" text-anchor="middle" transform="rotate(-90 364.25 407.5)">0.88</text>
<text class="d" x="287" y="421.0" font-size="5.4" text-anchor="middle">0.15</text>
<text class="d" x="371" y="421.0" font-size="5.4" text-anchor="middle">0.16</text>
<text class="d" x="300" y="426.8" font-size="5.4" text-anchor="middle" transform="rotate(-90 300 425)">1.29</text>
<text class="d" x="356.25" y="426.8" font-size="5.4" text-anchor="middle" transform="rotate(-90 356.25 425)">1.29</text>
<text class="d" x="293.25" y="433.8" font-size="5.4" text-anchor="middle" transform="rotate(-90 293.25 432)">2.11</text>
<text class="d" x="364.25" y="433.8" font-size="5.4" text-anchor="middle" transform="rotate(-90 364.25 432)">2.11</text>
<text class="d" x="314.6" y="441.0" font-size="5.4" text-anchor="middle">2.75</text>
<text class="d" x="343" y="441.0" font-size="5.4" text-anchor="middle">2.75</text>
<text class="d" x="300.6" y="446.0" font-size="5.4" text-anchor="middle" transform="rotate(-90 300.6 444.2)">0.82</text>
<text class="d" x="356.25" y="446.0" font-size="5.4" text-anchor="middle" transform="rotate(-90 356.25 444.2)">0.82</text>
<text class="d" x="330.2" y="449.4" font-size="5.4" text-anchor="middle" transform="rotate(-90 330.2 447.6)">2.17</text>
<text class="d" x="232.6" y="465.1" font-size="5.85" text-anchor="middle">r= 1.89</text>
<text class="d" x="232.8" y="474.5" font-size="5.85" text-anchor="middle">a= 3.74</text>
<text class="d" x="426" y="464.8" font-size="5.85" text-anchor="middle">r= 1.89</text>
<text class="d" x="426" y="474.0" font-size="5.85" text-anchor="middle">a= 3.74</text>
<text class="ti" x="2.2" y="16.6" font-size="13.5" textLength="122.6" lengthAdjust="spacingAndGlyphs">STRATA PLAN LMS</text>
<text class="ti" x="3.4" y="37.0" font-size="15.9" textLength="152" lengthAdjust="spacingAndGlyphs">THIRTEENTH FLOOR</text>
<path d="M0,40.3 H158.4" fill="none" stroke="#1c1c1c" stroke-width="1.1" />
<path d="M135,18.3 H210" fill="none" stroke="#444" stroke-width="1.0" />
<path d="M149.5,7.5 C151,3.5 158,2 160.5,5 C162.5,8.5 154,13 148.5,15.5 C146,16.8 146.5,13.8 149.5,14 C154,14.4 158,16.2 163.5,14.8" fill="none" stroke="#1c1c1c" stroke-width="1.4" stroke-linecap="round" stroke-linejoin="round"/>
<path d="M164,5 C167,3 173,2.6 173.5,5 C173.8,7.2 170,8.6 167.5,9 C171,8.8 175.5,10 175,12.6 C174.2,15.8 166.5,17 163,15" fill="none" stroke="#1c1c1c" stroke-width="1.4" stroke-linecap="round" stroke-linejoin="round"/>
<path d="M190,3.6 L180.6,4.6 L179.4,9.4 C183,8.2 189.4,8.4 189.6,11.8 C189.6,15.4 182,17 177.6,15.2" fill="none" stroke="#1c1c1c" stroke-width="1.4" stroke-linecap="round" stroke-linejoin="round"/>
<path d="M204.4,3.4 L194,4.8 L192.6,9.6 C196.4,8.4 203.4,8.6 203.6,12 C203.6,15.6 195.6,17 191,15.2" fill="none" stroke="#1c1c1c" stroke-width="1.4" stroke-linecap="round" stroke-linejoin="round"/>
<text class="ad" x="3.0" y="448.2" textLength="40.6" lengthAdjust="spacingAndGlyphs"><tspan font-size="23.8">U</tspan><tspan font-size="19.7">NIT</tspan></text>
<text class="ad" x="52.3" y="448.2" textLength="58.6" lengthAdjust="spacingAndGlyphs"><tspan font-size="23.8">#1510</tspan></text>
<text class="ad" x="3.2" y="474.7" textLength="46.3" lengthAdjust="spacingAndGlyphs"><tspan font-size="22.2">7380</tspan></text>
<text class="ad" x="55.2" y="474.7" textLength="111.9" lengthAdjust="spacingAndGlyphs"><tspan font-size="22.2">E</tspan><tspan font-size="19.6">LMBRIDGE</tspan></text>
<text class="ad" x="171.4" y="474.7" textLength="45.1" lengthAdjust="spacingAndGlyphs"><tspan font-size="22.2">W</tspan><tspan font-size="19.6">AY</tspan></text>
<text class="d" x="278.4" y="473.9" font-size="7.6" textLength="90.2" lengthAdjust="spacingAndGlyphs" style="stroke-width:0.25">SHEET 25 OF 35 SHEETS</text>
<text class="sh" x="551" y="441.4" font-size="3.4" textLength="25.5" lengthAdjust="spacingAndGlyphs" style="fill:#5a5a5a;stroke:none">DATED THIS</text>
<text class="sh" x="600" y="441.4" font-size="3.4" textLength="15" lengthAdjust="spacingAndGlyphs" style="fill:#5a5a5a;stroke:none">DAY OF</text>
<text class="sh" x="619.5" y="451" font-size="3.4" textLength="13.5" lengthAdjust="spacingAndGlyphs" style="fill:#5a5a5a;stroke:none">, 1996</text>
<text class="sh" x="619" y="475.2" font-size="3.2" textLength="17" lengthAdjust="spacingAndGlyphs" style="fill:#5a5a5a;stroke:none">B.C.L.S.</text>
<path d="M581.4,441.6 H596.3" fill="none" stroke="#1c1c1c" stroke-width="0.8" />
<path d="M551.7,452.9 H614.2" fill="none" stroke="#555" stroke-width="0.8" />
<path d="M551.7,470.4 H640" fill="none" stroke="#555" stroke-width="0.8" />
<path d="M584,437.6 L585.4,436 L584.8,441 M587,437 C588,435.6 590.4,435.8 590,437.6 C589.6,439.2 587.6,440 586.8,441 L591.4,440.6" fill="none" stroke="#1c1c1c" stroke-width="1.0" stroke-linecap="round" stroke-linejoin="round"/>
<path d="M594.6,430 L593.6,437 M592.8,432.6 L596.4,432 M596.8,430.4 L596.2,437 C596.6,434.6 598.4,434 598.6,435.4 L598.6,437" fill="none" stroke="#1c1c1c" stroke-width="0.9" stroke-linecap="round" stroke-linejoin="round"/>
<path d="M565,451.4 L567.6,444.4 L569.4,449.6 L572,444 L572.6,451 M575,448.4 C573.6,448 573.2,450.8 574.6,450.8 C576,450.6 576.2,448 576.4,448.4 L576.8,451 M578.6,448 L578.8,451 C579,449 580,447.8 581.4,448.4 M585,448.4 C583.4,447.8 582.6,450.6 584.4,450.8 L585.6,450.4 M587.4,444.4 L587,451 C587.4,449 589,448 589.6,449 L590,451 L591.6,450.6" fill="none" stroke="#1c1c1c" stroke-width="1.2" stroke-linecap="round" stroke-linejoin="round"/>
<path d="M580,457 C577,455 573.6,458 575.2,461 C576.6,463.6 580.6,461 581,457.6 L579,470 C578.4,473.6 576.4,476 573.4,476.4 M583,459 C582,462 583.6,464.6 585.2,463 C586.4,461.6 586.2,459.6 587,460 C587.2,462 588,463.6 589.4,463 M591,464 L592.6,455.4 C595,454.4 596.6,456 594.6,458.4 C597.4,458.6 597.4,462.4 592.6,463.6" fill="none" stroke="#1c1c1c" stroke-width="1.5" stroke-linecap="round" stroke-linejoin="round"/>
</g>
</svg>
</body></html>
